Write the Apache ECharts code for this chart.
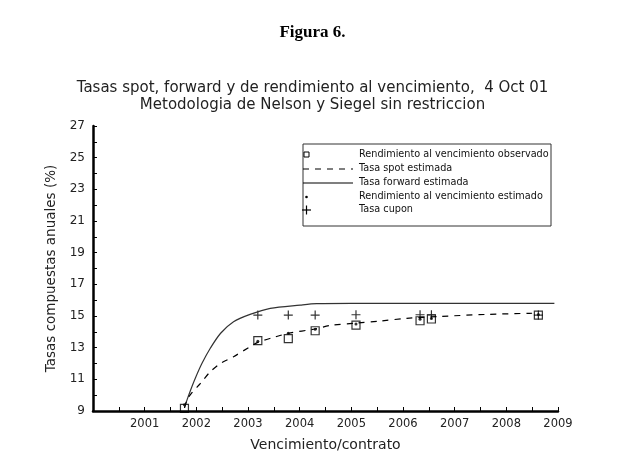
<!DOCTYPE html>
<html><head><meta charset="utf-8">
<script src="https://cdn.jsdelivr.net/npm/echarts@6/dist/echarts.min.js"></script>
<style>html,body{margin:0;padding:0;background:#fff}#c{width:625px;height:467px}</style>
</head><body><div id="c"></div>
<script>
// Observed bonds (maturity in years)
const bondYears = [2001.77, 2003.19, 2003.78, 2004.30, 2005.09, 2006.33, 2006.55, 2008.62];
const observedYield = [9.17, 13.44, 13.57, 14.07, 14.43, 14.70, 14.81, 15.06];
const estimatedYield = [9.40, 13.40, 13.91, 14.16, 14.49, 14.79, 14.85, 15.10];
const couponRate = [null, 15.06, 15.06, 15.06, 15.08, 15.08, 15.08, 15.06];
// Estimated spot curve
const spotX = [2001.77, 2001.82, 2001.90, 2002.08, 2002.27, 2002.47, 2002.72, 2003.04, 2003.20, 2003.50, 2003.78, 2004.30, 2004.59, 2005.10, 2005.55, 2006.07, 2006.71, 2007.61, 2008.45, 2008.62];
const spotY = [9.20, 9.69, 10.10, 10.75, 11.48, 12.01, 12.43, 13.06, 13.35, 13.65, 13.91, 14.18, 14.40, 14.55, 14.68, 14.85, 14.97, 15.10, 15.17, 15.18];
// Estimated forward curve
const fwdX = [2001.77, 2001.82, 2001.89, 2001.98, 2002.11, 2002.27, 2002.47, 2002.72, 2003.04, 2003.43, 2004.01, 2004.33, 2005.00, 2006.00, 2007.00, 2008.00, 2008.93];
const fwdY = [9.20, 9.70, 10.33, 11.07, 12.01, 12.96, 13.91, 14.64, 15.10, 15.48, 15.69, 15.78, 15.80, 15.80, 15.80, 15.80, 15.80];
// Texts
const figTitle = 'Figura 6.';
const chartTitle = 'Tasas spot, forward y de rendimiento al vencimiento,  4 Oct 01';
const chartSubtitle = 'Metodologia de Nelson y Siegel sin restriccion';
const yName = 'Tasas compuestas anuales (%)';
const xName = 'Vencimiento/contrato';
const legendNames = ['Rendimiento al vencimiento observado', 'Tasa spot estimada', 'Tasa forward estimada', 'Rendimiento al vencimiento estimado', 'Tasa cupon'];

const zip = (a, b) => a.map((v, i) => [v, b[i]]);
const FONT = 'DejaVu Sans';
const plusPath = 'path://M5,0L5,10M0,5L10,5';

const chart = echarts.init(document.getElementById('c'));
const lx = 303, ly = 144;
const rowY = [155, 169, 183, 197, 210];
const legendText = legendNames.map((n, i) => ({
  type: 'text', left: 359, top: rowY[i] - 6,
  style: { text: n, font: '9.7px "DejaVu Sans"', fill: '#111' }
}));
chart.setOption({
  animation: false,
  backgroundColor: '#fff',
  title: [
    { text: figTitle, left: 'center', top: 19, textStyle: { fontFamily: 'Liberation Serif', fontWeight: 'bold', fontSize: 17, color: '#000' } },
    { text: chartTitle, left: 'center', top: 76, textStyle: { fontFamily: FONT, fontWeight: 'normal', fontSize: 15, color: '#222' } },
    { text: chartSubtitle, left: 'center', top: 93, textStyle: { fontFamily: FONT, fontWeight: 'normal', fontSize: 15, color: '#222' } }
  ],
  grid: { left: 93, right: 67, top: 126, bottom: 56 },
  xAxis: {
    type: 'value', min: 2000, max: 2009, interval: 0.5,
    name: xName, nameLocation: 'middle', nameGap: 27,
    nameTextStyle: { fontFamily: FONT, fontSize: 14, color: '#222' },
    axisLine: { lineStyle: { color: '#000', width: 2.5 } },
    axisTick: { inside: true, length: 4, lineStyle: { color: '#000' } },
    axisLabel: { fontFamily: FONT, fontSize: 11.5, color: '#222', margin: 7,
      formatter: v => (v % 1 === 0 && v !== 2000) ? String(v) : '' },
    splitLine: { show: false }
  },
  yAxis: {
    type: 'value', min: 9, max: 27, interval: 1,
    name: yName, nameLocation: 'middle', nameGap: 32, nameRotate: 90,
    nameTextStyle: { fontFamily: FONT, fontSize: 13.5, color: '#222' },
    axisLine: { show: true, lineStyle: { color: '#000', width: 2.5 } },
    axisTick: { inside: true, length: 4, lineStyle: { color: '#000' } },
    axisLabel: { fontFamily: FONT, fontSize: 12, color: '#222', margin: 8,
      formatter: v => (v % 2 === 1) ? String(v) : '' },
    splitLine: { show: false }
  },
  series: [
    { name: legendNames[2], type: 'line', data: zip(fwdX, fwdY), smooth: 0.3, showSymbol: false,
      lineStyle: { color: '#333', width: 1.2 } },
    { name: legendNames[1], type: 'line', data: zip(spotX, spotY), smooth: 0.3, showSymbol: false,
      lineStyle: { color: '#000', width: 1.2, type: [6, 6] } },
    { name: legendNames[0], type: 'scatter', data: zip(bondYears, observedYield), symbol: 'rect', symbolSize: 8,
      itemStyle: { color: 'rgba(0,0,0,0)', borderColor: '#000', borderWidth: 1.2 } },
    { name: legendNames[4], type: 'scatter', data: zip(bondYears, couponRate), symbol: plusPath, symbolSize: 9,
      itemStyle: { color: 'rgba(0,0,0,0)', borderColor: '#000', borderWidth: 1.2 } },
    { name: legendNames[3], type: 'scatter', data: zip(bondYears, estimatedYield), symbol: 'circle', symbolSize: 3,
      itemStyle: { color: '#000' } }
  ],
  graphic: [
    { type: 'rect', shape: { x: lx, y: ly, width: 248, height: 82 }, style: { fill: '#fff', stroke: '#333', lineWidth: 1 }, z: 10 },
    { type: 'rect', shape: { x: 304, y: 152, width: 5, height: 5 }, style: { fill: 'none', stroke: '#000', lineWidth: 1 }, z: 11 },
    { type: 'line', shape: { x1: 303, y1: rowY[1], x2: 353, y2: rowY[1] }, style: { stroke: '#000', lineWidth: 1.2, lineDash: [6, 6] }, z: 11 },
    { type: 'line', shape: { x1: 303, y1: rowY[2], x2: 353, y2: rowY[2] }, style: { stroke: '#000', lineWidth: 1.2 }, z: 11 },
    { type: 'circle', shape: { cx: 306.5, cy: rowY[3], r: 1.3 }, style: { fill: '#000' }, z: 11 },
    { type: 'line', shape: { x1: 302, y1: rowY[4], x2: 311, y2: rowY[4] }, style: { stroke: '#000', lineWidth: 1.2 }, z: 11 },
    { type: 'line', shape: { x1: 306.5, y1: rowY[4] - 4.5, x2: 306.5, y2: rowY[4] + 4.5 }, style: { stroke: '#000', lineWidth: 1.2 }, z: 11 },
    ...legendText.map(t => Object.assign(t, { z: 11 }))
  ]
});
</script></body></html>
